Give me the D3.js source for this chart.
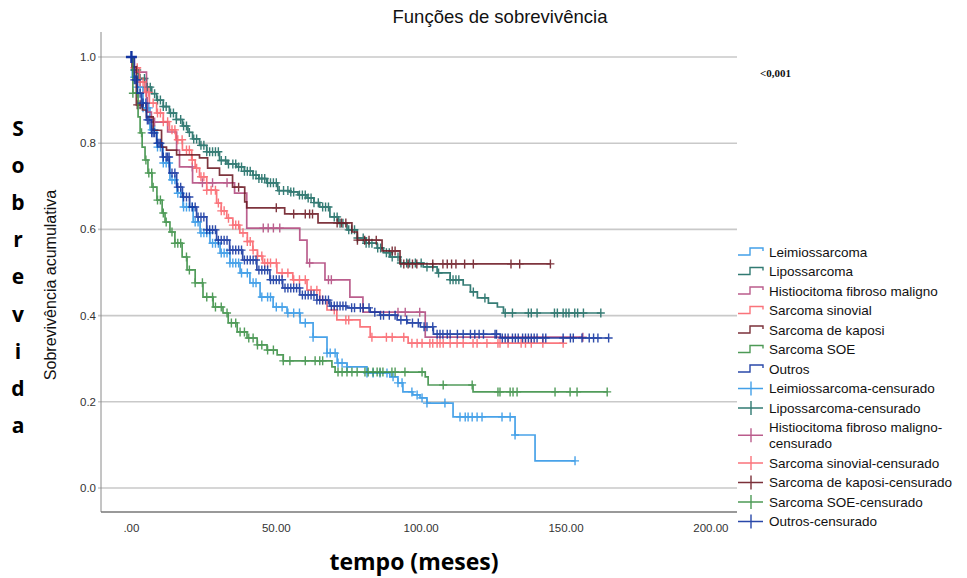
<!DOCTYPE html>
<html>
<head>
<meta charset="utf-8">
<script src="https://cdn.jsdelivr.net/npm/d3@7"></script>
<style>
	body { margin: 0; background: #fff; }
	svg { display: block; }
</style>
</head>
<body>
<script>
// groups in SPSS order
var groups = [
	'Leimiossarcoma',
	'Lipossarcoma',
	'Histiocitoma fibroso maligno',
	'Sarcoma sinovial',
	'Sarcoma de kaposi',
	'Sarcoma SOE',
	'Outros'
]
var colors = ['#2f96e6', '#1b6b63', '#b24a7f', '#fa646c', '#6d1a24', '#3a8f44', '#1234a0']

// km steps [tempo, sobrevivencia]
var leimioSteps = [[0.3,0.953],[1.9,0.930],[4,0.882],[6.4,0.831],[8.8,0.791],[10.9,0.754],[13.3,0.715],[15.7,0.684],[17.8,0.652],[21.3,0.617],[23.7,0.592],[27.1,0.568],[30.6,0.545],[34,0.522],[37.5,0.499],[40.9,0.476],[44.4,0.443],[48.9,0.42],[53.7,0.406],[58.2,0.383],[62.7,0.35],[67.5,0.313],[71,0.29],[74.4,0.281],[81.3,0.267],[89.2,0.258],[92,0.244],[93.7,0.223],[97.1,0.216],[99.6,0.209],[102,0.197],[111,0.165],[132.4,0.123],[139.3,0.063]]
var lipoSteps = [[0.3,0.97],[2.5,0.95],[5.2,0.93],[7,0.915],[8.7,0.90],[11,0.885],[13.1,0.87],[15.5,0.855],[17.6,0.84],[19.5,0.825],[21.1,0.81],[23.5,0.795],[26,0.78],[30.4,0.76],[33,0.752],[36.3,0.745],[39,0.735],[41.9,0.726],[44,0.718],[46.7,0.708],[50.5,0.69],[54.7,0.687],[57.5,0.68],[60.6,0.673],[63,0.662],[65,0.652],[68.5,0.629],[71.5,0.614],[74.4,0.599],[77.9,0.58],[81,0.568],[84.8,0.557],[87,0.546],[89.3,0.536],[92.7,0.522],[100.7,0.513],[105.5,0.499],[110,0.483],[114.5,0.471],[117,0.455],[119.4,0.441],[123.2,0.429],[126.3,0.42],[128.4,0.406]]
var histioSteps = [[1,0.965],[5.2,0.905],[5.5,0.872],[6.9,0.849],[12.5,0.826],[15.6,0.784],[16.6,0.745],[21.1,0.708],[35.6,0.684],[39.8,0.603],[58.1,0.575],[60.6,0.522],[66.8,0.483],[75.4,0.443],[79.9,0.408],[101.4,0.35]]
var sinovialSteps = [[0.3,0.975],[2.8,0.942],[4.5,0.918],[6.2,0.893],[8.7,0.87],[11,0.85],[13.1,0.831],[15.3,0.808],[17.6,0.784],[20.8,0.761],[22,0.742],[23.5,0.722],[26,0.691],[29.4,0.661],[31,0.643],[32.9,0.626],[35,0.61],[37.4,0.592],[40,0.572],[41.9,0.552],[43.5,0.538],[45.3,0.522],[50.2,0.499],[55.7,0.483],[60.6,0.459],[65,0.436],[67.5,0.413],[70.9,0.39],[78.9,0.374],[82.4,0.35],[95.5,0.336]]
var kaposiSteps = [[0.3,0.977],[1.7,0.889],[3.8,0.877],[5.2,0.861],[7.5,0.83],[10.4,0.791],[12.1,0.784],[15.6,0.773],[23.5,0.766],[26.3,0.742],[30.4,0.726],[34.9,0.698],[39.1,0.664],[39.8,0.65],[52.9,0.636],[64.4,0.615],[76.1,0.594],[78,0.575],[86.5,0.55],[92.7,0.52]]
var soeSteps = [[0.5,0.916],[2.3,0.861],[3,0.824],[3.7,0.791],[4.7,0.761],[5.7,0.731],[7.1,0.698],[8.8,0.668],[10.6,0.638],[11.6,0.617],[13.3,0.594],[15,0.568],[17.5,0.536],[19.2,0.506],[22,0.476],[24.7,0.443],[28.2,0.42],[31.6,0.406],[33.4,0.383],[36.5,0.362],[39.9,0.348],[43.4,0.332],[46.8,0.32],[50.3,0.309],[52.4,0.295],[69.2,0.281],[70.3,0.269],[101.4,0.258],[102.4,0.239],[117.9,0.223]]
var outrosSteps = [[1,0.947],[2.1,0.916],[3.5,0.893],[5.2,0.854],[6.9,0.824],[8.7,0.8],[10.7,0.768],[13.1,0.731],[15.6,0.698],[17.6,0.675],[20.1,0.652],[22.5,0.629],[26,0.599],[29.4,0.575],[33.9,0.552],[38.4,0.529],[43.3,0.506],[47.8,0.483],[52.2,0.464],[58.1,0.448],[64,0.436],[68.5,0.422],[74.4,0.418],[82.4,0.408],[85.8,0.401],[91.7,0.39],[95.2,0.383],[99.7,0.374],[104.2,0.357],[127.3,0.348]]

// censored times (the little crosses)
var leimioCens = [1,2,3,4,5,6,7,8,9,10,11,12,13,14,15,16,17,18,19,20,21,22,23,24,25,26,27,28,29,30,31,32,33,34,35,36,37,38,40,42,43,45,47,48,50,52,54,56,58,60,62.7,67.5,68.6,70.3,71.3,72.7,74.4,81.3,83.4,85.8,88.2,90.3,92,93.4,96.8,98.6,100.3,102,108.2,113.4,115.2,116.2,117.6,119.3,121,127.9,130.7,132.4,153.1]
var lipoCens = [1,2,3,4.5,5.5,6.5,8,9,10,11,12,13.5,14.5,15.5,17,18,19,20,21.5,22.5,24,25,26,27,28,29,30,31,32.5,33.5,35,36,37,38,39,40,41,42,43,44,45,46,47,48,49,50,51,52.5,54,55,56,58,59,60,61,62,63,64.5,66,67,68,70,71,72,73,75,76,77,78,80,81,82,83,85,86,88,89,90,92,93,95,96,98,100,102,104,106,110,111,112,113,118,122,129,131.5,137,138,140,146,147,149,150,151,153,154,156,162]
var histioCens = [8,21,24.5,28,33,45.5,47.2,49,51.2,61.5,68,69,92,94.5,99.5,155.8]
var sinovialCens = [1,2,3,4,5,6,7.5,9,10,11,12.5,14,15,16,17.5,19,20,21,22.5,24,25,26,27.5,29,30,31,32,33.5,35,36,37,38.5,40,41,42,43.5,45,46,47,48,50,52,54,56,58,60,62,64,66,70,74,75,83,88,90,94,96.8,98.6,100.3,103,104,105.5,106.5,107.6,110,112.4,114.5,117.9,119.3,122.7,126.5,127.2,130,134.5,136,138,142,149]
var kaposiCens = [2,3,37,50,56,60,61.5,62.5,71,72.5,74,78,80.5,82,84.5,90,91,94,95.5,97,98.5,104,107.5,109,110.5,112,115,118,131,134,144.6]
var soeCens = [0.5,2,3.5,5,6,7,7.5,9,10,11,12,14,15,16,17,19,20,22,24.5,26,28,29,31,33,34.5,36,37.5,39,40.5,42,43.5,45,47,49,52.4,54.7,60,63.4,65,66,71.3,72.7,74.4,76.1,77.9,80.6,81.7,83.4,84.8,85.8,86.8,89.9,91,94.4,100.3,107.6,117.6,126.5,127.2,130.7,131.7,133.1,146.2,151.4,153.8,164.2]
var outrosCens = [1,1.5,2,3,3.5,4,5,5.5,6,7,7.5,8,9,9.5,10,11,12,12.5,13,14,15,16,17,18,19,20,21,22,23,24,25,26,27,28,29,30,31,32,33,34,35,36,37,38,39,40,41,42,43,44,45,46,47,48,49,50,51,52,53,54,55,56,57,58,59,60,61,62,63,64,65,66,67,68,69,70,71,72,73,74,76,77,79,80,82,84,86,87,89,91,93,95,97,99,101,102,104,105.5,106.5,107.5,109,110,112.5,114.5,117,118.5,120,121.5,125.5,126,128,129,130,131.5,132.5,133.5,135,136,137,138,139,140,142,143,149,151.5,152.5,155.5,158,159.5,161,164.7]

var xTicks = [0, 50, 100, 150, 200]
var xTickLabels = ['.00', '50.00', '100.00', '150.00', '200.00']
var yTicks = [0, 0.2, 0.4, 0.6, 0.8, 1.0]

var allSteps = [leimioSteps, lipoSteps, histioSteps, sinovialSteps, kaposiSteps, soeSteps, outrosSteps]
var allCens = [leimioCens, lipoCens, histioCens, sinovialCens, kaposiCens, soeCens, outrosCens]

var width = 967,
	height = 578

var svg = d3.select('body').append('svg')
	.attr('width', width)
	.attr('height', height)

var x = d3.scaleLinear().domain([-10.5, 209]).range([101, 737])
var y = d3.scaleLinear().domain([-0.0557, 1.058]).range([512, 32])

var sans = 'Liberation Sans, Arial, sans-serif'

// gridlines
svg.selectAll('.grid')
	.data(yTicks)
	.enter()
	.append('line')
		.attr('x1', 98)
		.attr('x2', 737)
		.attr('y1', d => y(d))
		.attr('y2', d => y(d))
		.attr('stroke', '#c9c9c9')
		.attr('stroke-width', 1.6)

// axes (SPSS style: left + bottom only)
svg.append('line')
	.attr('x1', 101).attr('x2', 101)
	.attr('y1', 32).attr('y2', 512)
	.attr('stroke', '#8a8a8a')
	.attr('stroke-width', 1)
svg.append('line')
	.attr('x1', 101).attr('x2', 737)
	.attr('y1', 512).attr('y2', 512)
	.attr('stroke', '#777')
	.attr('stroke-width', 1.5)

svg.selectAll('.ylab')
	.data(yTicks)
	.enter()
	.append('text')
		.attr('x', 96)
		.attr('y', d => y(d) + 4)
		.attr('text-anchor', 'end')
		.style('font-family', sans)
		.style('font-size', '11.5px')
		.attr('fill', '#333')
		.text(d => d.toFixed(1))

svg.selectAll('.xlab')
	.data(xTicks)
	.enter()
	.append('text')
		.attr('x', d => x(d))
		.attr('y', 532)
		.attr('text-anchor', 'middle')
		.style('font-family', sans)
		.style('font-size', '11.5px')
		.attr('fill', '#333')
		.text((d, i) => xTickLabels[i])

// curves
function survAt(steps, t) {
	var s = 1
	for (var k = 0; k < steps.length; k++) {
		if (steps[k][0] <= t) s = steps[k][1]
		else break
	}
	return s
}

var line = d3.line()
	.x(d => x(d[0]))
	.y(d => y(d[1]))
	.curve(d3.curveStepAfter)

function cross(g, cx, cy, r, color, sw) {
	g.append('path')
		.attr('d', 'M' + (cx - r) + ',' + cy + 'H' + (cx + r) + 'M' + cx + ',' + (cy - r - 0.5) + 'V' + (cy + r + 0.5))
		.attr('stroke', color)
		.attr('stroke-width', sw)
		.attr('fill', 'none')
}

groups.forEach(function (name, i) {
	var steps = allSteps[i]
	var cens = allCens[i]
	var end = d3.max(cens)
	var pts = [[0, 1]].concat(steps).concat([[end, steps[steps.length - 1][1]]])
	var g = svg.append('g').attr('opacity', 0.88)
	g.append('path')
		.attr('d', line(pts))
		.attr('fill', 'none')
		.attr('stroke', colors[i])
		.attr('stroke-width', 1.7)
	cens.forEach(function (t) {
		cross(g, x(t), y(survAt(steps, t)), 4, colors[i], 1.4)
	})
})
// the bold start mark
cross(svg, x(0), y(1), 5.5, colors[6], 2.4)

// title
svg.append('text')
	.attr('x', 500)
	.attr('y', 23)
	.attr('text-anchor', 'middle')
	.style('font-family', sans)
	.style('font-size', '18.5px')
	.attr('fill', '#111')
	.text('Funções de sobrevivência')

svg.append('text')
	.attr('x', 760)
	.attr('y', 77)
	.style('font-family', 'Liberation Serif, serif')
	.style('font-weight', 'bold')
	.style('font-size', '11px')
	.attr('fill', '#111')
	.text('<0,001')

// y title
svg.append('text')
	.attr('transform', 'translate(56,285) rotate(-90)')
	.attr('text-anchor', 'middle')
	.style('font-family', sans)
	.style('font-size', '16px')
	.attr('fill', '#111')
	.text('Sobrevivência acumulativa')

// big vertical word
'Sobrevida'.split('').forEach(function (c, i) {
	svg.append('text')
		.attr('x', 18)
		.attr('y', 136 + i * 37.1)
		.attr('text-anchor', 'middle')
		.style('font-family', 'Open Sans, sans-serif')
		.style('font-weight', 'bold')
		.style('font-size', '21px')
		.attr('fill', '#000')
		.text(c)
})

svg.append('text')
	.attr('x', 414)
	.attr('y', 570)
	.attr('text-anchor', 'middle')
	.style('font-family', 'Open Sans, sans-serif')
	.style('font-weight', 'bold')
	.style('font-size', '23px')
	.attr('fill', '#000')
	.text('tempo (meses)')

// LEGEND
var legendItems = []
groups.forEach((d, i) => legendItems.push({ lines: [d], color: colors[i], cens: false }))
groups.forEach(function (d, i) {
	if (i == 2) legendItems.push({ lines: [d + '-', 'censurado'], color: colors[i], cens: true })
	else legendItems.push({ lines: [d + '-censurado'], color: colors[i], cens: true })
})

var ly = 252
legendItems.forEach(function (item) {
	var n = item.lines.length
	var symY = ly + (n - 1) * 7.75
	var g = svg.append('g').attr('opacity', 0.9)
	if (!item.cens) {
		g.append('path')
			.attr('d', 'M738,' + (symY + 3) + 'H750V' + (symY - 4) + 'H763V' + (symY - 1))
			.attr('fill', 'none')
			.attr('stroke', item.color)
			.attr('stroke-width', 1.4)
	} else {
		g.append('path')
			.attr('d', 'M738,' + symY + 'H763M751,' + (symY - 7) + 'V' + (symY + 7))
			.attr('fill', 'none')
			.attr('stroke', item.color)
			.attr('stroke-width', 1.4)
	}
	item.lines.forEach(function (t, k) {
		svg.append('text')
			.attr('x', 769)
			.attr('y', ly + k * 15.5 + 4.8)
			.style('font-family', sans)
			.style('font-size', '13.5px')
			.attr('fill', '#111')
			.text(t)
	})
	ly += 19.5 + (n - 1) * 16
})
</script>
</body>
</html>
